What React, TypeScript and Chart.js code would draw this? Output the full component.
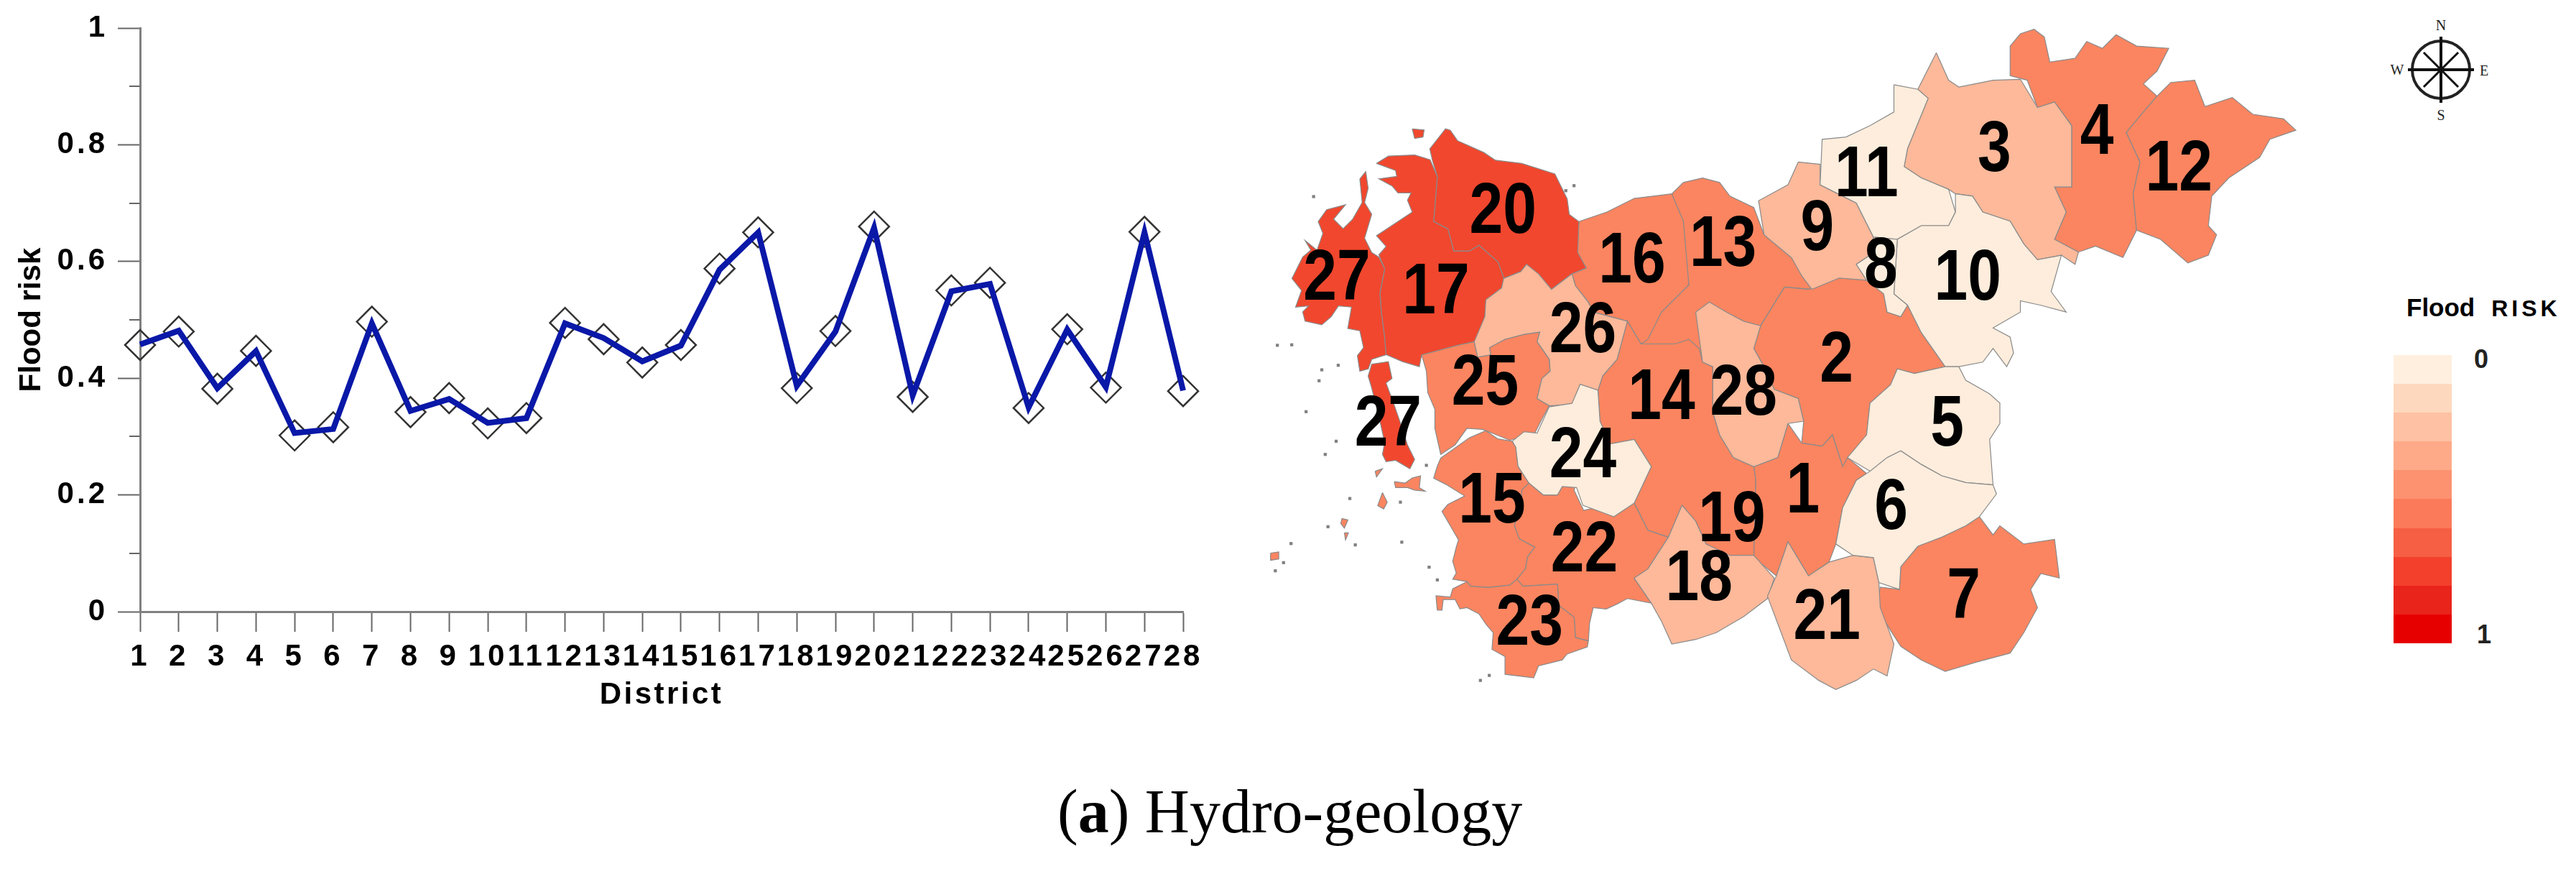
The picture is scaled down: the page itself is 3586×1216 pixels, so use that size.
import React, { useEffect, useRef } from "react";
import { Chart, registerables } from "chart.js";

Chart.register(...registerables);

const districts = Array.from({ length: 28 }, (_, i) => String(i + 1));
const lineValues = [0.458, 0.4815, 0.383, 0.4465, 0.306, 0.313, 0.494, 0.344, 0.3645, 0.3235, 0.3317, 0.494, 0.469, 0.429, 0.456, 0.586, 0.65, 0.387, 0.48, 0.658, 0.3707, 0.549, 0.5616, 0.35, 0.4836, 0.385, 0.65, 0.379];
const markerValues = [0.457, 0.48, 0.382, 0.447, 0.302, 0.316, 0.497, 0.342, 0.366, 0.3227, 0.3317, 0.495, 0.467, 0.427, 0.457, 0.588, 0.65, 0.383, 0.481, 0.66, 0.368, 0.5505, 0.5636, 0.349, 0.484, 0.384, 0.651, 0.378];
const minorYTicks = [0.1, 0.3, 0.5, 0.7, 0.9];

const legendColors = ["#FEEFDF", "#FED8BE", "#FEC1A3", "#FEAA88", "#FC9270", "#FB7A5A", "#F65F44", "#F3402C", "#E9241B", "#E60000"];
const RED = "#F1472E";
const ORANGE = "#FB8560";
const MID = "#FDB99A";
const LIGHT = "#FEEDDC";

type Pt = number[];
const outline13: Pt[] = [[655, 420], [672, 395], [700, 385], [725, 395], [740, 425], [775, 450], [790, 510], [830, 560], [860, 630], [820, 625], [785, 710], [700, 790], [660, 750], [610, 750], [620, 700], [680, 620]];
const outline16: Pt[] = [[519, 481], [560, 460], [600, 430], [655, 420], [672, 480], [680, 620], [640, 680], [620, 740], [610, 750], [590, 700], [540, 680], [533, 658], [514, 622], [509, 596], [530, 583], [517, 549]];
const outline20: Pt[] = [[301, 321], [324, 277], [331, 280], [341.5, 303], [380, 329], [397, 346], [435.5, 353], [484, 376], [502, 431], [505, 465], [519, 481], [517.4, 549], [529.6, 583], [508.7, 596], [479, 630], [460, 596], [442.5, 575], [434, 591], [409.4, 606], [400.7, 570], [373, 533], [359, 546], [336, 546], [327.5, 497], [306.6, 481], [312, 381.6], [305, 347.6]];
const outline17: Pt[] = [[223, 353], [240.4, 337], [279, 334.5], [301.4, 345], [312, 382], [306.6, 481], [327.5, 497], [336, 546], [359, 546], [373, 533], [400.7, 570], [409.4, 606], [406, 627], [383.3, 653], [381.5, 690], [373, 726.5], [366, 745], [341.5, 753], [289, 774], [285.7, 800], [261, 789], [237, 773.6], [235, 737], [230, 679.5], [228.2, 637.7], [235, 585.4], [226.5, 554], [237, 535.8], [223, 512], [244, 491], [275.3, 460], [268.3, 434], [273.5, 418], [254.4, 418], [245.7, 402.5], [226.5, 387], [252.6, 381.6], [250.9, 368.5]];
const outline27North: Pt[] = [[198.6, 387], [207.3, 371], [210.8, 407.7], [205.6, 439], [216, 465], [205.6, 517.5], [216, 549], [226.5, 559], [235, 585], [228, 638], [230, 680], [235, 737], [237, 774], [216, 784], [211, 805], [198.6, 810], [195, 776], [204, 758], [198.6, 721], [181, 716], [186.4, 669], [167.3, 666.4], [156.8, 690], [143, 708], [118.5, 700], [115, 679.5], [123.7, 666.4], [104.6, 669], [113.3, 632.5], [99.3, 606], [115, 559], [127, 543.6], [118.5, 522.7], [136, 543.6], [144.6, 507], [137.7, 481], [150, 454.7], [177.7, 444], [160.3, 475.6], [174.2, 496.6], [188.2, 475.6], [202, 439]];
const outline27South: Pt[] = [[216, 794.5], [240.4, 789], [245.7, 826], [237, 836], [247.4, 878], [256, 915], [268.3, 972], [278.8, 1004], [271.8, 1024.5], [250.9, 1006], [237, 1009], [231.7, 993], [235, 967], [226.5, 909.5], [216, 847], [210.8, 820.6]];
const outline25: Pt[] = [[289, 774], [341.5, 752.7], [366, 745], [371, 779], [390, 773.6], [388.5, 758], [411, 739.6], [439, 729], [461.7, 724], [458, 745], [475.6, 784], [477, 810], [465, 826], [458, 870], [475.6, 886], [463.4, 920], [454.7, 946], [418, 961.8], [392, 946], [378, 938], [355.4, 935.6], [338, 972], [317, 993], [308.4, 935.6], [308.4, 894], [298, 857], [296, 810]];
const outline15: Pt[] = [[317, 1001], [359, 956.5], [383, 940.8], [400.7, 959], [421.6, 964], [426.8, 977], [430, 1019], [446, 1056], [435.5, 1071.5], [435.5, 1090], [425, 1150], [432, 1178.6], [454.7, 1197], [444.2, 1218], [440.8, 1244], [428.6, 1267.5], [418, 1280.6], [386.8, 1285.8], [360.6, 1283], [355.4, 1272.7], [334.5, 1267.5], [339.7, 1254], [334.5, 1228], [339.7, 1197], [343, 1181], [331, 1150], [318.8, 1118.5], [327.5, 1103], [352, 1084.5], [324, 1058.4], [306.6, 1045.3], [311.9, 1019]];
const outline22: Pt[] = [[446, 1056], [456.4, 1068.9], [466.9, 1082], [487.8, 1082], [494.8, 1063.6], [515.7, 1053], [512, 1071.5], [526, 1116], [550.5, 1108], [570, 1130], [600, 1100], [620, 1160], [650, 1175], [620, 1245], [600, 1265], [625, 1320], [590, 1310], [575, 1322], [559, 1333], [540, 1330], [534.8, 1364], [533, 1403], [514, 1396], [512, 1351], [489.6, 1325], [487.8, 1278], [437, 1283], [428.6, 1267.5], [441, 1244], [444, 1218], [454.7, 1197], [432, 1178.6], [425, 1150], [435.5, 1090], [435.5, 1071.5]];
const outline23: Pt[] = [[311.9, 1335.4], [310, 1304], [331, 1306.7], [334.5, 1288.4], [355.4, 1272.7], [360.6, 1283], [386.8, 1285.8], [418, 1280.6], [428.6, 1267.5], [437.3, 1283], [487.8, 1278], [489.6, 1325], [512.2, 1351], [514, 1395.6], [533, 1403.4], [531.4, 1416.5], [501.7, 1432], [494.8, 1445], [460, 1458], [453, 1484.4], [411, 1476.6], [411, 1437.4], [392, 1421.7], [393.7, 1385], [383.3, 1366.8], [372.8, 1343.3], [355.4, 1330], [345, 1332.8], [338, 1312], [320.6, 1312], [318.8, 1335.4]];
const outline14: Pt[] = [[547, 852], [554, 820], [575, 784], [590, 700], [610, 750], [660, 750], [680, 740], [695, 760], [700, 790], [715, 800], [715, 900], [725, 950], [745, 1000], [775, 1020], [778, 1050], [775, 1220], [740, 1215], [705, 1190], [690, 1140], [670, 1105], [650, 1175], [620, 1160], [600, 1100], [625, 1020], [600, 960], [565, 970], [550, 920]];
const outline2: Pt[] = [[820, 625], [855, 630], [900, 605], [940, 610], [965, 640], [970, 680], [990, 690], [1000, 665], [1020, 725], [1055, 800], [1010, 815], [985, 805], [975, 840], [945, 880], [940, 950], [915, 1000], [905, 1020], [890, 950], [875, 975], [845, 968], [848, 920], [840, 870], [805, 850], [790, 800], [775, 760], [785, 710]];
const outline1: Pt[] = [[845, 968], [875, 975], [890, 950], [905, 1020], [912, 1000], [940, 1035], [925, 1050], [905, 1110], [895, 1190], [885, 1230], [855, 1260], [825, 1185], [808, 1260], [775, 1220], [778, 1050], [775, 1020], [810, 1000], [825, 925]];
const outline7: Pt[] = [[990, 1240], [1015, 1195], [1085, 1150], [1105, 1130], [1125, 1170], [1135, 1150], [1170, 1190], [1215, 1180], [1222, 1265], [1195, 1255], [1180, 1290], [1190, 1330], [1170, 1385], [1150, 1430], [1100, 1450], [1055, 1470], [1020, 1445], [990, 1415], [975, 1380], [955, 1330], [960, 1285], [988, 1290]];
const outline4: Pt[] = [[1150, 95], [1165, 68], [1185, 58], [1200, 75], [1208, 130], [1245, 122], [1262, 85], [1285, 100], [1305, 70], [1335, 95], [1382, 100], [1365, 150], [1345, 178], [1365, 205], [1345, 240], [1320, 285], [1340, 350], [1330, 420], [1335, 500], [1315, 560], [1275, 535], [1250, 548], [1215, 520], [1232, 460], [1215, 405], [1240, 405], [1240, 270], [1215, 218], [1190, 230], [1175, 170], [1150, 160]];
const outline12: Pt[] = [[1365, 205], [1385, 175], [1420, 170], [1435, 228], [1475, 208], [1505, 245], [1550, 255], [1568, 280], [1530, 300], [1515, 340], [1470, 385], [1445, 425], [1440, 490], [1452, 510], [1440, 555], [1410, 572], [1370, 520], [1335, 500], [1330, 420], [1340, 350], [1320, 285], [1345, 240]];
const outline3: Pt[] = [[1042, 110], [1060, 170], [1075, 185], [1125, 170], [1165, 168], [1190, 230], [1215, 218], [1240, 270], [1240, 405], [1215, 405], [1232, 460], [1215, 520], [1250, 548], [1245, 575], [1225, 555], [1190, 565], [1170, 530], [1150, 480], [1110, 460], [1095, 425], [1070, 420], [1060, 410], [1020, 385], [995, 360], [1000, 320], [1030, 210], [1015, 190]];
const outline9: Pt[] = [[840, 350], [872, 355], [872, 400], [925, 440], [950, 515], [945, 555], [925, 575], [940, 610], [900, 605], [860, 630], [845, 600], [830, 560], [790, 510], [782, 435], [825, 400]];
const outline28: Pt[] = [[690, 680], [710, 658], [735, 680], [760, 700], [785, 710], [775, 760], [790, 800], [805, 850], [840, 870], [848, 920], [825, 925], [810, 1000], [775, 1020], [745, 1000], [725, 950], [715, 900], [715, 800], [700, 790]];
const outline26: Pt[] = [[409, 606], [406, 627], [383, 653], [381.5, 690], [366, 745], [371, 779], [390, 774], [388.5, 758], [411, 740], [439, 729], [462, 724], [458, 745], [476, 784], [477, 810], [465, 826], [458, 870], [476, 886], [509, 883], [521, 839], [547, 852], [554, 820], [575, 784], [590, 700], [540, 680], [533, 658.6], [514, 622], [509, 596], [479, 630], [460, 596], [442.5, 575], [434, 591]];
const outline18: Pt[] = [[670, 1105], [690, 1140], [705, 1190], [740, 1215], [775, 1215], [805, 1265], [795, 1310], [760, 1350], [720, 1385], [690, 1400], [655, 1410], [640, 1360], [625, 1320], [600, 1265], [620, 1245], [650, 1175]];
const outline21: Pt[] = [[825, 1185], [855, 1260], [885, 1230], [920, 1215], [950, 1220], [958, 1275], [960, 1330], [980, 1410], [970, 1480], [950, 1465], [925, 1490], [895, 1510], [870, 1490], [830, 1445], [815, 1385], [795, 1305], [808, 1260]];
const outline11: Pt[] = [[980, 180], [1015, 190], [1030, 210], [1000, 320], [995, 360], [1020, 385], [1060, 410], [1070, 460], [1060, 490], [1020, 490], [985, 520], [950, 515], [925, 440], [872, 400], [875, 300], [910, 295], [945, 270], [980, 240]];
const outline10: Pt[] = [[1070, 420], [1095, 425], [1110, 460], [1150, 480], [1170, 530], [1190, 565], [1225, 555], [1210, 635], [1232, 680], [1195, 665], [1165, 655], [1165, 680], [1125, 715], [1150, 735], [1155, 770], [1145, 800], [1125, 760], [1110, 790], [1075, 800], [1055, 800], [1020, 725], [1000, 665], [980, 640], [985, 520], [1020, 490], [1060, 490], [1070, 460]];
const outline8: Pt[] = [[950, 515], [985, 520], [980, 640], [1000, 665], [990, 690], [970, 680], [965, 640], [940, 610], [925, 575], [945, 555]];
const outline5: Pt[] = [[985, 805], [1010, 815], [1055, 800], [1075, 800], [1085, 830], [1120, 860], [1135, 880], [1135, 925], [1120, 960], [1125, 1060], [1085, 1055], [1050, 1040], [1020, 1015], [990, 985], [970, 1000], [945, 1030], [912, 1000], [940, 950], [945, 880], [975, 840]];
const outline6: Pt[] = [[990, 985], [1020, 1015], [1050, 1040], [1085, 1055], [1125, 1060], [1130, 1080], [1105, 1130], [1085, 1150], [1050, 1175], [1015, 1195], [990, 1240], [988, 1290], [958, 1275], [950, 1220], [920, 1215], [895, 1190], [905, 1110], [925, 1050], [945, 1030], [970, 1000]];
const outline24: Pt[] = [[421.6, 964], [439, 943], [458, 946], [475.6, 888.5], [509, 880.7], [521, 839], [547, 852], [550, 920], [565, 970], [600, 960], [625, 1020], [600, 1100], [570, 1130], [525, 1105], [515.7, 1066], [494.8, 1063.6], [487.8, 1082], [466.9, 1082], [446, 1056], [430, 1019], [426.8, 977]];
const islandA: Pt[] = [[275.3, 277], [292.7, 279.6], [291, 295], [278.8, 298]];
const islandB: Pt[] = [[249, 1053], [265, 1056], [275.3, 1045], [287.5, 1040], [285.7, 1066], [294.4, 1074], [278.8, 1071.5], [268.3, 1066], [251, 1066]];
const islandC: Pt[] = [[231.7, 1077], [238.7, 1098], [233.5, 1113], [224.8, 1105.5]];
const islandD: Pt[] = [[172.5, 1134], [181.2, 1137], [176, 1155], [170.8, 1145]];
const islandE: Pt[] = [[68, 1210], [80, 1207.4], [80, 1223], [68, 1225.7]];
const islandF: Pt[] = [[221, 1030], [231.7, 1024.4], [223, 1042.7]];
const islandG: Pt[] = [[176, 1165.6], [181.9, 1165.6], [177.7, 1181]];
const speckX = [512, 500, 167, 143, 139, 120, 78, 99, 131, 164, 148, 184, 258, 152, 192, 260, 300, 312, 375, 388, 296, 98, 87, 75];
const speckY = [402, 413, 797, 807, 831, 899, 753, 752, 426, 964, 993, 1090, 1098, 1152, 1192, 1186, 1241, 1269, 1490, 1479, 1017, 1189, 1231, 1249];

const mapShapes: [Pt[], string][] = [
  [outline13, ORANGE], [outline16, ORANGE], [outline14, ORANGE], [outline2, ORANGE], [outline1, ORANGE],
  [outline25, ORANGE], [outline15, ORANGE], [outline22, ORANGE], [outline23, ORANGE], [outline7, ORANGE],
  [outline4, ORANGE], [outline12, ORANGE], [outline20, RED], [outline17, RED], [outline27North, RED], [outline27South, RED],
  [outline3, MID], [outline9, MID], [outline28, MID], [outline26, MID], [outline18, MID], [outline21, MID],
  [outline11, LIGHT], [outline10, LIGHT], [outline8, LIGHT], [outline5, LIGHT], [outline6, LIGHT], [outline24, LIGHT],
  [islandA, RED], [islandB, ORANGE], [islandC, ORANGE], [islandD, ORANGE], [islandE, ORANGE], [islandF, ORANGE], [islandG, ORANGE],
];

const mapLabels = ["1", "2", "3", "4", "5", "6", "7", "8", "9", "10", "11", "12", "13", "14", "15", "16", "17", "18", "19", "20", "21", "22", "23", "24", "25", "26", "27", "27", "28"];
const mapLabelX = [847, 896, 1127, 1277, 1058, 976, 1082, 961, 868, 1088, 940, 1397, 730, 640, 392, 597, 310, 695, 743, 408, 882, 527, 447, 525, 382, 525, 165, 240, 760];
const mapLabelY = [1073, 785, 322, 283, 925, 1108, 1305, 578, 495, 605, 377, 365, 530, 867, 1095, 567, 635, 1265, 1135, 457, 1350, 1202, 1363, 995, 835, 720, 605, 925, 857];

const spaced = (scale: any, method: string, px: string) => {
  const orig = scale[method].bind(scale);
  scale[method] = (...args: any[]) => {
    scale.ctx.letterSpacing = px;
    orig(...args);
    scale.ctx.letterSpacing = "0px";
  };
};

const axisStyle = {
  id: "axisStyle",
  afterLayout(chart: any) {
    if (chart.$spaced) return;
    chart.$spaced = true;
    spaced(chart.scales.x, "drawLabels", "4px");
    spaced(chart.scales.y, "drawLabels", "4px");
    spaced(chart.scales.x, "drawTitle", "3.5px");
  },
  afterDraw(chart: any) {
    const { ctx, scales } = chart;
    ctx.save();
    ctx.strokeStyle = "#666";
    ctx.lineWidth = 2;
    for (const v of minorYTicks) {
      const y = Math.round(scales.y.getPixelForValue(v));
      ctx.beginPath();
      ctx.moveTo(scales.y.right - 15, y);
      ctx.lineTo(scales.y.right, y);
      ctx.stroke();
    }
    ctx.restore();
  },
};

const mapText = {
  id: "mapText",
  afterDatasetsDraw(chart: any) {
    const { ctx, scales } = chart;
    ctx.save();
    ctx.fillStyle = "#000";
    ctx.font = "bold 100px 'Liberation Sans'";
    ctx.textAlign = "center";
    ctx.textBaseline = "middle";
    mapLabels.forEach((t, i) => {
      ctx.save();
      ctx.translate(scales.x.getPixelForValue(mapLabelX[i]), scales.y.getPixelForValue(mapLabelY[i]) + 3);
      ctx.scale(0.84, 1);
      ctx.fillText(t, 0, 0);
      ctx.restore();
    });
    ctx.restore();
  },
};

const compassRays = [0, 45, 90, 135, 180, 225, 270, 315];

export default function App() {
  const lineRef = useRef<HTMLCanvasElement>(null);
  const mapRef = useRef<HTMLCanvasElement>(null);

  useEffect(() => {
    const line = new Chart(lineRef.current!, {
      type: "line",
      data: {
        labels: districts,
        datasets: [
          { label: "Flood risk", data: lineValues, borderColor: "#0A18A8", borderWidth: 8, pointRadius: 0, tension: 0, order: 0, borderJoinStyle: "miter", clip: false as any },
          { label: "Markers", data: markerValues, showLine: false, pointStyle: "rectRot", pointRadius: 21, pointBorderWidth: 2.5, pointBorderColor: "#333", pointBackgroundColor: "rgba(255,255,255,0)", order: 1, clip: false as any },
        ],
      },
      options: {
        animation: false,
        responsive: false,
        layout: { padding: { left: 0, top: 39, right: 73, bottom: 0 } },
        plugins: { legend: { display: false }, tooltip: { enabled: false } },
        scales: {
          x: {
            type: "category",
            offset: false,
            afterFit: (s: any) => { s.height = 159; },
            border: { color: "#808080", width: 3 },
            grid: { drawOnChartArea: false, tickLength: 28, tickColor: "#666", tickWidth: 2 },
            ticks: { color: "#000", font: { family: "'Liberation Sans'", size: 42, weight: "bold" }, padding: 10, maxRotation: 0, autoSkip: false },
            title: { display: true, text: "District", color: "#000", font: { family: "'Liberation Sans'", size: 42, weight: "bold", lineHeight: 1 }, padding: { top: 0, bottom: 22 } },
          },
          y: {
            min: 0,
            max: 1,
            afterFit: (s: any) => { s.width = 195; },
            border: { color: "#808080", width: 3 },
            grid: { drawOnChartArea: false, tickLength: 31, tickColor: "#666", tickWidth: 2 },
            ticks: { stepSize: 0.2, color: "#000", font: { family: "'Liberation Sans'", size: 42, weight: "bold" }, padding: 14, callback: (v: any) => String(Math.round(Number(v) * 10) / 10) },
            title: { display: true, text: "Flood risk", color: "#000", font: { family: "'Liberation Sans'", size: 42, weight: "bold", lineHeight: 1 }, padding: { top: 23, bottom: 0 } },
          },
        },
      },
      plugins: [axisStyle],
    } as any);

    const map = new Chart(mapRef.current!, {
      type: "scatter",
      data: {
        datasets: [
          ...mapShapes.map(([pts, color], i) => ({
            label: `shape ${i}`,
            data: [...pts, pts[0]].map(([x, y]) => ({ x, y })),
            showLine: true,
            fill: "shape",
            backgroundColor: color,
            borderColor: "#8a8a8a",
            borderWidth: 1.2,
            pointRadius: 0,
            tension: 0,
            order: mapShapes.length - i,
            clip: false as any,
          })),
          {
            label: "specks",
            data: speckX.map((x, i) => ({ x, y: speckY[i] })),
            showLine: false,
            pointStyle: "rect",
            pointRadius: 3,
            pointBorderWidth: 0,
            pointBackgroundColor: "#808080",
            order: 0,
          },
        ],
      },
      options: {
        animation: false,
        responsive: false,
        layout: { padding: 0 },
        plugins: { legend: { display: false }, tooltip: { enabled: false } },
        scales: {
          x: { type: "linear", min: 0, max: 1568, display: false },
          y: { type: "linear", min: 0, max: 1568, reverse: true, display: false },
        },
      },
      plugins: [mapText],
    } as any);

    return () => {
      line.destroy();
      map.destroy();
    };
  }, []);

  const abs = (left: number, top: number, extra: any = {}) => ({ position: "absolute", left, top, ...extra });
  const cx = 3398;
  const cy = 97;

  return (
    <div style={{ position: "relative", width: 3586, height: 1216, background: "#fff", overflow: "hidden" }}>
      <style>{"body{margin:0}"}</style>
      <canvas ref={lineRef} width={1720} height={1010} style={abs(0, 0, { display: "block" })} />
      <canvas ref={mapRef} width={1500} height={1000} style={abs(1700, 0, { display: "block" })} />

      <svg width={180} height={180} viewBox={`${cx - 90} ${cy - 90} 180 180`} style={abs(cx - 90, cy - 90)}>
        <circle cx={cx} cy={cy} r={40} fill="none" stroke="#222" strokeWidth={4} />
        {compassRays.map((a) => {
          const rad = (a * Math.PI) / 180;
          const r = a % 90 === 0 ? 46 : 34;
          return <line key={a} x1={cx} y1={cy} x2={cx + r * Math.sin(rad)} y2={cy - r * Math.cos(rad)} stroke="#111" strokeWidth={a % 90 === 0 ? 4 : 3} />;
        })}
        <text x={cx} y={cy - 55} fontSize={20} fontFamily="Liberation Serif" textAnchor="middle" fill="#222">N</text>
        <text x={cx} y={cy + 70} fontSize={20} fontFamily="Liberation Serif" textAnchor="middle" fill="#222">S</text>
        <text x={cx - 61} y={cy + 7} fontSize={20} fontFamily="Liberation Serif" textAnchor="middle" fill="#222">W</text>
        <text x={cx + 60} y={cy + 8} fontSize={20} fontFamily="Liberation Serif" textAnchor="middle" fill="#222">E</text>
      </svg>

      <div style={abs(3350, 409, { font: "bold 35px/38px 'Liberation Sans'", color: "#000", whiteSpace: "nowrap" })}>
        Flood<span style={{ marginLeft: 23, fontSize: 32, letterSpacing: 5 }}>RISK</span>
      </div>
      <div style={abs(3332, 494, { width: 81, height: 401, display: "flex", flexDirection: "column" })}>
        {legendColors.map((c) => (
          <div key={c} style={{ flex: 1, background: c }} />
        ))}
      </div>
      <div style={abs(3444, 481, { font: "bold 36px/38px 'Liberation Sans'", color: "#222" })}>0</div>
      <div style={abs(3448, 864, { font: "bold 36px/38px 'Liberation Sans'", color: "#222" })}>1</div>

      <div style={abs(1472, 1079, { font: "86px/100px 'Liberation Serif'", color: "#000", whiteSpace: "nowrap" })}>
        (<b>a</b>) Hydro-geology
      </div>
    </div>
  );
}
